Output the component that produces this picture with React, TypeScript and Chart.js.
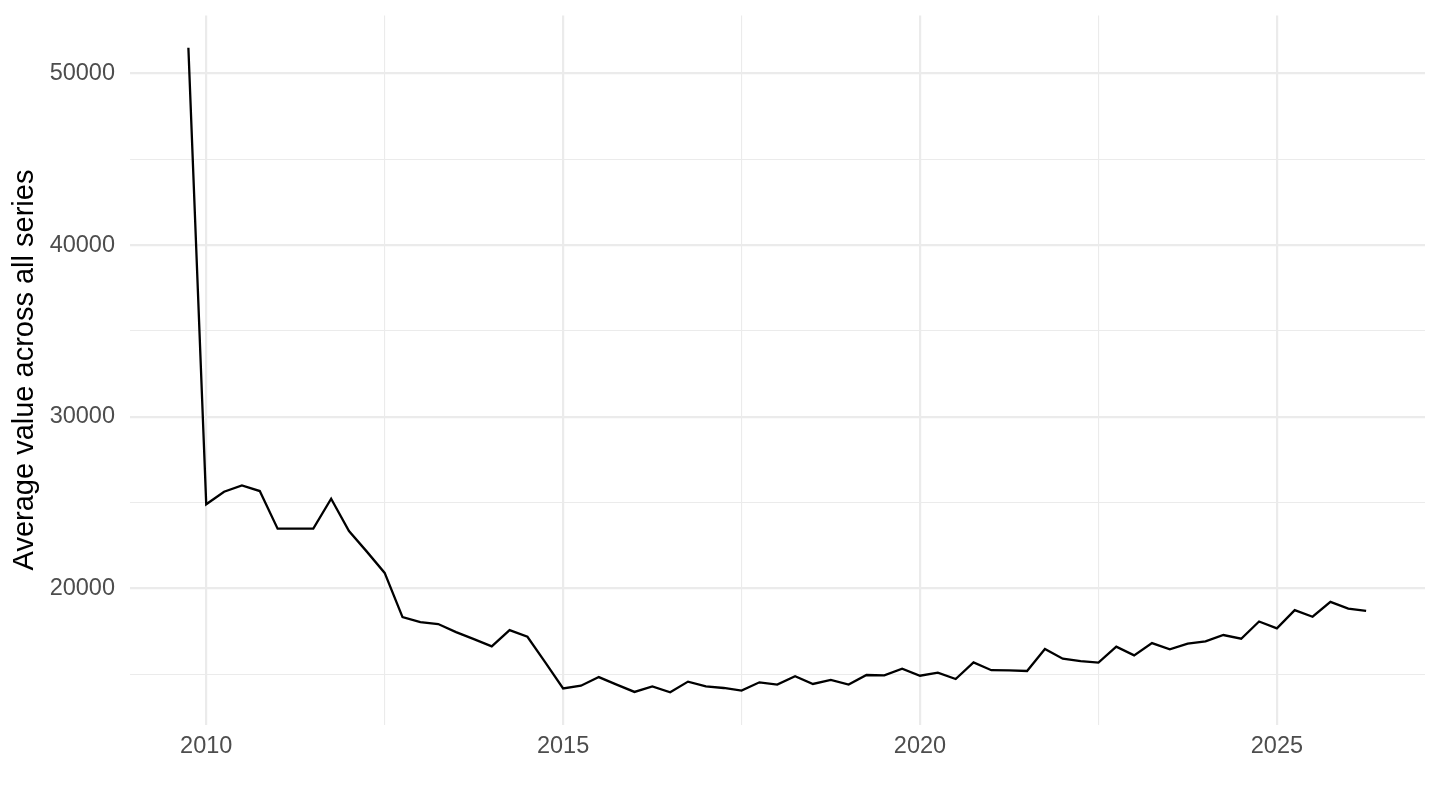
import React, { useEffect, useRef } from "react";
import { Chart, registerables } from "chart.js";

Chart.register(...registerables);

const quarters: string[] = [
  "2009 Q4",
  "2010 Q1", "2010 Q2", "2010 Q3", "2010 Q4",
  "2011 Q1", "2011 Q2", "2011 Q3", "2011 Q4",
  "2012 Q1", "2012 Q2", "2012 Q3", "2012 Q4",
  "2013 Q1", "2013 Q2", "2013 Q3", "2013 Q4",
  "2014 Q1", "2014 Q2", "2014 Q3", "2014 Q4",
  "2015 Q1", "2015 Q2", "2015 Q3", "2015 Q4",
  "2016 Q1", "2016 Q2", "2016 Q3", "2016 Q4",
  "2017 Q1", "2017 Q2", "2017 Q3", "2017 Q4",
  "2018 Q1", "2018 Q2", "2018 Q3", "2018 Q4",
  "2019 Q1", "2019 Q2", "2019 Q3", "2019 Q4",
  "2020 Q1", "2020 Q2", "2020 Q3", "2020 Q4",
  "2021 Q1", "2021 Q2", "2021 Q3", "2021 Q4",
  "2022 Q1", "2022 Q2", "2022 Q3", "2022 Q4",
  "2023 Q1", "2023 Q2", "2023 Q3", "2023 Q4",
  "2024 Q1", "2024 Q2", "2024 Q3", "2024 Q4",
  "2025 Q1", "2025 Q2", "2025 Q3", "2025 Q4",
  "2026 Q1", "2026 Q2",
];

const averageValues: number[] = [
  51500,
  24900, 25630, 26000, 25670,
  23480, 23480, 23480, 25220,
  23340, 22140, 20900, 18325,
  18035, 17920, 17450, 17045,
  16620, 17570, 17180, 15690,
  14170, 14330, 14830, 14390,
  13965, 14290, 13945, 14565,
  14290, 14195, 14040, 14525,
  14390, 14875, 14430, 14660,
  14390, 14950, 14930, 15320,
  14910, 15090, 14720, 15690,
  15230, 15225, 15185, 16465,
  15900, 15765, 15670, 16600,
  16095, 16810, 16445, 16775,
  16910, 17280, 17065, 18070,
  17665, 18730, 18345, 19215,
  18825, 18690,
];

const xTicks: number[] = [2010, 2012.5, 2015, 2017.5, 2020, 2022.5, 2025];
const yTicks: number[] = [15000, 20000, 25000, 30000, 35000, 40000, 45000, 50000];
const xLabelled: number[] = [2010, 2015, 2020, 2025];
const yLabelled: number[] = [20000, 30000, 40000, 50000];

const yTitle = "Average value across all series";

function quarterToYear(q: string): number {
  const [y, qq] = q.split(" Q");
  return Number(y) + (Number(qq) - 1) / 4;
}

export default function App() {
  const ref = useRef<HTMLCanvasElement | null>(null);

  useEffect(() => {
    if (!ref.current) return;
    const xs = quarters.map(quarterToYear);
    const points = xs.map((x, i) => ({ x, y: averageValues[i] }));
    const xMinD = Math.min(...xs);
    const xMaxD = Math.max(...xs);
    const yMinD = Math.min(...averageValues);
    const yMaxD = Math.max(...averageValues);
    const xPad = (xMaxD - xMinD) * 0.05;
    const yPad = (yMaxD - yMinD) * 0.05;
    const font = "'Liberation Sans', Arial, Helvetica, sans-serif";

    const zeroPad = (scale: any) => {
      scale.paddingTop = 0;
      scale.paddingBottom = 0;
      scale.paddingLeft = 0;
      scale.paddingRight = 0;
    };

    const chart = new Chart(ref.current, {
      type: "line",
      data: {
        datasets: [
          {
            data: points,
            borderColor: "#000000",
            borderWidth: 2.3,
            pointRadius: 0,
            pointHoverRadius: 0,
            tension: 0,
            fill: false,
          },
        ],
      },
      options: {
        animation: false,
        responsive: false,
        maintainAspectRatio: false,
        events: [],
        layout: { padding: { left: 0, top: 15.5, right: 15, bottom: 0 } },
        plugins: {
          legend: { display: false },
          tooltip: { enabled: false },
        },
        scales: {
          x: {
            type: "linear",
            min: xMinD - xPad,
            max: xMaxD + xPad,
            afterBuildTicks: (scale: any) => {
              scale.ticks = xTicks.map((v) => ({ value: v }));
            },
            afterFit: (scale: any) => {
              scale.height = 85.5;
              zeroPad(scale);
            },
            border: { display: false },
            grid: {
              color: "#EBEBEB",
              lineWidth: (ctx: any) =>
                xLabelled.includes(ctx.tick?.value) ? 2.2 : 1.1,
              drawTicks: false,
            },
            ticks: {
              autoSkip: false,
              maxRotation: 0,
              padding: 7.5,
              color: "#4D4D4D",
              font: { family: font, size: 23.5 },
              callback: (v: any) => (xLabelled.includes(Number(v)) ? String(v) : ""),
            },
          },
          y: {
            type: "linear",
            min: yMinD - yPad,
            max: yMaxD + yPad,
            afterBuildTicks: (scale: any) => {
              scale.ticks = yTicks.map((v) => ({ value: v }));
            },
            afterFit: (scale: any) => {
              scale.width = 129.5;
              zeroPad(scale);
            },
            border: { display: false },
            grid: {
              color: "#EBEBEB",
              lineWidth: (ctx: any) =>
                yLabelled.includes(ctx.tick?.value) ? 2.2 : 1.1,
              drawTicks: false,
            },
            ticks: {
              autoSkip: false,
              padding: 14.5,
              color: "#4D4D4D",
              font: { family: font, size: 23.5 },
              callback: (v: any) => (yLabelled.includes(Number(v)) ? String(v) : ""),
            },
            title: {
              display: true,
              text: yTitle,
              color: "#000000",
              font: { family: font, size: 29 },
              padding: { top: 7.6, bottom: 0 },
            },
          },
        },
      },
    });
    return () => chart.destroy();
  }, []);

  return (
    <div style={{ position: "fixed", left: 0, top: 0, width: 1440, height: 810, background: "#ffffff" }}>
      <canvas ref={ref} width={1440} height={810} style={{ display: "block", width: 1440, height: 810 }} />
    </div>
  );
}
